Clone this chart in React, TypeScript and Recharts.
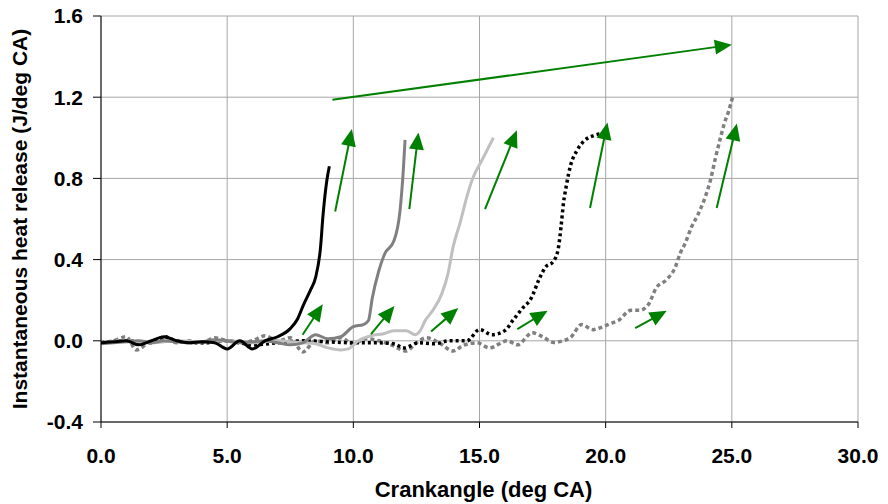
import {CartesianGrid, Line, LineChart, ReferenceLine, XAxis, YAxis} from 'recharts';

// crank angle (deg CA) / heat release (J/deg CA) per run
const blackSolidX = [0, 0.5, 1, 1.5, 2, 2.5, 3, 3.5, 4, 4.5, 5, 5.5, 6, 6.5, 7, 7.5, 7.8, 8, 8.3, 8.5, 8.7, 8.8, 8.95, 9.05];
const blackSolidY = [-0.01, -0.005, 0, -0.02, 0, 0.02, 0, -0.01, -0.005, -0.01, -0.04, 0, -0.04, 0, 0.02, 0.06, 0.11, 0.17, 0.25, 0.31, 0.46, 0.62, 0.79, 0.86];

const darkGrayX = [0, 0.5, 1, 1.5, 2, 2.5, 3, 3.5, 4, 4.5, 5, 5.5, 6, 6.5, 7, 7.5, 8, 8.5, 9, 9.5, 10, 10.4, 10.6, 10.75, 11, 11.25, 11.6, 11.85, 11.98, 12.05];
const darkGrayY = [-0.015, -0.01, -0.005, 0, -0.01, 0, -0.005, -0.01, -0.005, 0.005, 0, -0.01, -0.005, 0, -0.01, -0.02, -0.01, 0.03, 0.01, 0.02, 0.07, 0.08, 0.1, 0.21, 0.34, 0.43, 0.49, 0.64, 0.84, 0.99];

const lightGrayX = [0, 1, 2, 3, 4, 5, 6, 7, 8, 8.5, 9, 9.5, 9.8, 10.2, 10.7, 11.2, 11.6, 12.1, 12.45, 12.65, 12.85, 13.15, 13.5, 13.75, 13.95, 14.25, 14.5, 14.7, 15.1, 15.55];
const lightGrayY = [-0.01, 0, -0.01, 0, -0.005, 0, -0.01, 0, -0.01, -0.015, -0.035, -0.045, -0.04, 0, 0.025, 0.035, 0.05, 0.05, 0.03, 0.05, 0.1, 0.15, 0.23, 0.33, 0.46, 0.59, 0.71, 0.79, 0.89, 1.0];

const blackDotX = [0, 1, 2, 2.5, 3, 4, 5, 6, 7, 8, 9, 10, 11, 11.6, 12, 12.6, 13.2, 13.8, 14.5, 15, 15.5, 16, 16.35, 16.7, 17.05, 17.35, 17.6, 17.95, 18.13, 18.23, 18.32, 18.45, 18.6, 18.85, 19.15, 19.5, 19.8];
const blackDotY = [-0.01, 0, -0.01, 0.02, 0, -0.01, 0, -0.02, -0.01, 0, -0.005, -0.01, -0.01, -0.015, -0.035, -0.01, -0.015, 0, 0, 0.055, 0.03, 0.05, 0.105, 0.16, 0.21, 0.3, 0.36, 0.395, 0.46, 0.56, 0.67, 0.77, 0.86, 0.935, 0.985, 1.01, 1.02];

const grayDotX = [0, 0.5, 1, 1.4, 2, 2.5, 3, 3.5, 4, 4.5, 5, 5.5, 6, 6.5, 7, 7.5, 8, 8.5, 9, 9.5, 10, 10.5, 11, 11.5, 12.1, 12.5, 12.9, 13.4, 13.95, 14.4, 14.9, 15.4, 16.1, 16.5, 17.1, 17.5, 17.95, 18.3, 18.6, 19.05, 19.5, 19.8, 20.2, 20.5, 21, 21.35, 21.7, 22, 22.4, 22.75, 22.95, 23.15, 23.4, 23.65, 23.95, 24.15, 24.35, 24.55, 24.7, 24.87, 25.05];
const grayDotY = [-0.01, 0, 0.02, -0.045, 0, 0.01, -0.01, 0, -0.01, 0.015, 0, -0.01, 0, 0.025, 0, 0.015, -0.055, 0, -0.01, 0.015, -0.015, 0.01, 0, -0.02, -0.05, -0.01, 0.015, -0.01, -0.05, -0.02, -0.01, -0.035, 0, -0.02, 0.04, 0.02, -0.008, 0, 0.015, 0.08, 0.055, 0.065, 0.085, 0.1, 0.15, 0.15, 0.18, 0.26, 0.3, 0.36, 0.43, 0.48, 0.56, 0.62, 0.71, 0.79, 0.9, 1.0, 1.07, 1.13, 1.21];

// arrows: [tailX, tailY, headX, headY]
const arrows: [number, number, number, number][] = [
  [9.28, 0.637, 9.94, 1.043],
  [7.99, 0.03, 8.79, 0.18],
  [12.22, 0.649, 12.58, 1.026],
  [10.7, 0.033, 11.63, 0.172],
  [15.22, 0.649, 16.48, 1.037],
  [13.08, 0.046, 14.16, 0.161],
  [19.38, 0.654, 20.07, 1.075],
  [16.5, 0.058, 17.7, 0.148],
  [24.4, 0.654, 25.2, 1.07],
  [21.17, 0.062, 22.42, 0.148],
  [9.17, 1.187, 25.0, 1.458],
];

const xTicks = [0, 5, 10, 15, 20, 25, 30];
const yTicks = [-0.4, 0, 0.4, 0.8, 1.2, 1.6];

const toPoints = (xs: number[], ys: number[]) => xs.map((x, i) => ({x, y: ys[i]}));

const FONT = '"Liberation Sans", Arial, sans-serif';
const GREEN = '#008000';

function Arrow(props: any) {
  const {x1, y1, x2, y2} = props;
  const dx = x2 - x1;
  const dy = y2 - y1;
  const len = Math.sqrt(dx * dx + dy * dy) || 1;
  const ux = dx / len;
  const uy = dy / len;
  const headLen = 17;
  const headHalf = 7.5;
  const bx = x2 - ux * headLen;
  const by = y2 - uy * headLen;
  const pts = `${x2},${y2} ${bx - uy * headHalf},${by + ux * headHalf} ${bx + uy * headHalf},${by - ux * headHalf}`;
  return (
    <g>
      <line x1={x1} y1={y1} x2={bx + ux * 2} y2={by + uy * 2} stroke={GREEN} strokeWidth={2} />
      <polygon points={pts} fill={GREEN} />
    </g>
  );
}

export default function App() {
  const tickStyle = {fill: '#000', fontSize: 21, fontWeight: 700, fontFamily: FONT};
  return (
    <div style={{position: 'absolute', left: 0, top: 0, background: '#fff'}}>
      <LineChart width={888} height={504} margin={{top: 16, right: 30, left: 0, bottom: 0}}>
        <CartesianGrid stroke="#a6a6a6" strokeWidth={1} />
        <XAxis
          type="number"
          dataKey="x"
          domain={[0, 30]}
          ticks={xTicks}
          tickFormatter={(v: number) => v.toFixed(1)}
          allowDataOverflow
          height={82}
          stroke="#000"
          tickSize={6}
          tickMargin={20}
          tick={tickStyle}
          label={{value: 'Crankangle (deg CA)', position: 'insideBottom', offset: 7, dx: 4, style: {fill: '#000', fontSize: 22, fontWeight: 700, fontFamily: FONT}}}
        />
        <YAxis
          type="number"
          domain={[-0.4, 1.6]}
          ticks={yTicks}
          tickFormatter={(v: number) => v.toFixed(1)}
          allowDataOverflow
          width={101}
          stroke="#000"
          tickSize={8}
          tickMargin={10}
          tick={tickStyle}
          label={{value: 'Instantaneous heat release (J/deg CA)', angle: -90, position: 'insideLeft', offset: 20, style: {fill: '#000', fontSize: 21, fontWeight: 700, fontFamily: FONT, textAnchor: 'middle'}}}
        />
        <Line data={toPoints(grayDotX, grayDotY)} dataKey="y" type="monotone" stroke="#808080" strokeWidth={3.5} strokeDasharray="4 3" dot={false} isAnimationActive={false} />
        <Line data={toPoints(blackDotX, blackDotY)} dataKey="y" type="monotone" stroke="#000" strokeWidth={3.5} strokeDasharray="3 3" dot={false} isAnimationActive={false} />
        <Line data={toPoints(lightGrayX, lightGrayY)} dataKey="y" type="monotone" stroke="#c0c0c0" strokeWidth={3} dot={false} isAnimationActive={false} />
        <Line data={toPoints(darkGrayX, darkGrayY)} dataKey="y" type="monotone" stroke="#808080" strokeWidth={3} dot={false} isAnimationActive={false} />
        <Line data={toPoints(blackSolidX, blackSolidY)} dataKey="y" type="monotone" stroke="#000" strokeWidth={3} dot={false} isAnimationActive={false} />
        {arrows.map((a, i) => (
          <ReferenceLine key={i} segment={[{x: a[0], y: a[1]}, {x: a[2], y: a[3]}]} shape={Arrow} ifOverflow="visible" />
        ))}
      </LineChart>
    </div>
  );
}
